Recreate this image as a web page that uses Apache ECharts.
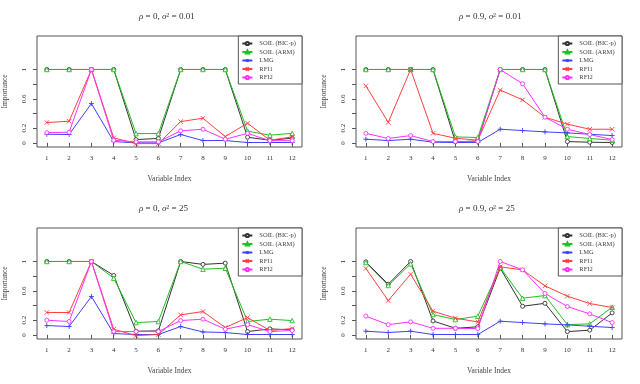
<!DOCTYPE html>
<html>
<head>
<meta charset="utf-8">
<script src="https://cdn.jsdelivr.net/npm/echarts@6/dist/echarts.min.js"></script>
<style>
html,body{margin:0;padding:0;background:#fff;}
#main{width:640px;height:384px;}
</style>
</head>
<body>
<div id="main"></div>
<script>
// variable index 1..12
var varIndex = [1,2,3,4,5,6,7,8,9,10,11,12];
var methodNames = ['SOIL (BIC-p)','SOIL (ARM)','LMG','RFI1','RFI2'];

// rho = 0, sigma^2 = 0.01
var p1_bic  = [1,1,1,1,0.045,0.06,1,1,1,0.077,0.036,0.064];
var p1_arm  = [1,1,1,1,0.127,0.127,1,1,1,0.16,0.105,0.13];
var p1_lmg  = [0.118,0.114,0.536,0.018,0,0,0.114,0.032,0.032,0.005,0.005,0.005];
var p1_rfi1 = [0.277,0.295,1,0.068,-0.01,-0.01,0.29,0.336,0.086,0.268,0.036,0.082];
var p1_rfi2 = [0.14,0.145,1,0.036,0.014,0.014,0.164,0.186,0.05,0.13,0.03,0.03];

// rho = 0.9, sigma^2 = 0.01
var p2_bic  = [1,1,1,1,0.014,0.027,1,1,1,0.018,0.009,0.005];
var p2_arm  = [1,1,1,1,0.082,0.073,1,1,1,0.086,0.06,0.036];
var p2_lmg  = [0.05,0.032,0.05,0.009,0.005,0.005,0.186,0.168,0.15,0.136,0.118,0.1];
var p2_rfi1 = [0.777,0.28,1,0.13,0.064,0.036,0.72,0.586,0.35,0.255,0.186,0.186];
var p2_rfi2 = [0.13,0.06,0.1,0.018,0.018,0.018,1,0.805,0.35,0.186,0.114,0.045];

// rho = 0, sigma^2 = 25
var p3_bic  = [1,1,1,0.81,0.05,0.055,1,0.96,0.977,0.045,0.082,0.068];
var p3_arm  = [1,1,1,0.773,0.168,0.182,1,0.895,0.909,0.182,0.214,0.195];
var p3_lmg  = [0.127,0.114,0.523,0.018,0.005,0.005,0.114,0.04,0.032,0.005,0.005,0.005];
var p3_rfi1 = [0.305,0.305,1,0.077,-0.01,0.005,0.273,0.318,0.1,0.236,0.06,0.086];
var p3_rfi2 = [0.2,0.182,1,0.045,0.045,0.045,0.195,0.214,0.077,0.14,0.045,0.06];

// rho = 0.9, sigma^2 = 25
var p4_bic  = [0.995,0.69,1,0.19,0.09,0.11,0.909,0.39,0.43,0.045,0.064,0.3];
var p4_arm  = [0.986,0.673,0.968,0.277,0.209,0.255,0.918,0.5,0.536,0.14,0.15,0.377];
var p4_lmg  = [0.05,0.032,0.05,0.005,0.005,0.005,0.186,0.168,0.15,0.136,0.118,0.1];
var p4_rfi1 = [0.905,0.468,0.827,0.323,0.227,0.177,0.927,0.886,0.668,0.527,0.427,0.373];
var p4_rfi2 = [0.255,0.14,0.177,0.09,0.09,0.086,1,0.886,0.564,0.386,0.286,0.168];

var yTicks = [0,0.2,0.4,0.6,0.8,1];
var yLabels = [0,0.2,0.6,1];

var panels = [
    {rho:'0',   s2:'0.01', data:[p1_bic,p1_arm,p1_lmg,p1_rfi1,p1_rfi2]},
    {rho:'0.9', s2:'0.01', data:[p2_bic,p2_arm,p2_lmg,p2_rfi1,p2_rfi2]},
    {rho:'0',   s2:'25',   data:[p3_bic,p3_arm,p3_lmg,p3_rfi1,p3_rfi2]},
    {rho:'0.9', s2:'25',   data:[p4_bic,p4_arm,p4_lmg,p4_rfi1,p4_rfi2]}
];

// styles per method (hollow symbols: white fill + coloured border)
var colors = ['#333333','#22c022','#4040ff','#ff4040','#ff30ff'];
var symbols = ['circle','triangle',
    'path://M5,0L5,10M0,5L10,5',
    'path://M0,0L10,10M0,10L10,0',
    'circle'];
var symSizes = [4, 4.5, 5, 4.5, 4];

var font = 'Liberation Serif';
var boxes = [
    {left:36, top:36},
    {left:356, top:36},
    {left:36, top:228},
    {left:356, top:228}
];
var boxW = 266, boxH = 111;

var grids=[], xAxes=[], yAxes=[], series=[], graphics=[], legends=[];

panels.forEach(function(p, k){
    var b = boxes[k];
    grids.push({left:b.left, top:b.top, width:boxW, height:boxH, show:true,
        borderColor:'#555', borderWidth:1, backgroundColor:'transparent'});
    xAxes.push({
        type:'value', gridIndex:k, min:0.56, max:12.44,
        name:'Variable Index', nameLocation:'middle', nameGap:28,
        nameTextStyle:{fontFamily:font, fontSize:7.5, color:'#444'},
        axisLine:{show:false},
        axisTick:{show:true, length:4, customValues:varIndex, lineStyle:{color:'#555'}},
        axisLabel:{fontFamily:font, fontSize:7, color:'#333', margin:8, customValues:varIndex},
        splitLine:{show:false}
    });
    yAxes.push({
        type:'value', gridIndex:k, min:-0.056, max:1.456,
        name:'Importance', nameLocation:'middle', nameGap:28,
        nameTextStyle:{fontFamily:font, fontSize:7.5, color:'#444'},
        axisLine:{show:false},
        axisTick:{show:true, length:4, customValues:yTicks, lineStyle:{color:'#555'}},
        axisLabel:{fontFamily:font, fontSize:7, color:'#333', margin:9, rotate:90,
            customValues:yLabels},
        splitLine:{show:false}
    });
    // panel title
    graphics.push({
        type:'text', left:b.left + boxW/2 - 30, top:b.top - 24,
        style:{
            text:'{i|ρ} = ' + p.rho + ', {i|σ}{sup|2} = ' + p.s2,
            fontFamily:font, fontSize:9, fill:'#333',
            rich:{
                i:{fontFamily:font, fontSize:9, fontStyle:'italic', fill:'#333'},
                sup:{fontFamily:font, fontSize:6, fill:'#333', verticalAlign:'top', padding:[0,0,3,0]}
            }
        }
    });
    legends.push({
        data:methodNames, orient:'vertical', align:'left',
        right:640 - (b.left + boxW), top:b.top,
        itemWidth:10, itemHeight:4, itemGap:1.5,
        padding:[4,6,3,3],
        borderColor:'#555', borderWidth:1, backgroundColor:'#fff',
        textStyle:{fontFamily:font, fontSize:6.5, color:'#444', padding:[0,0,0,2]}
    });
    p.data.forEach(function(vals, m){
        series.push({
            name:methodNames[m], type:'line', xAxisIndex:k, yAxisIndex:k,
            data:varIndex.map(function(x,i){ return [x, vals[i]]; }),
            symbol:symbols[m], symbolSize:symSizes[m], showAllSymbol:true,
            lineStyle:{color:colors[m], width:1},
            itemStyle:{color:'#fff', borderColor:colors[m], borderWidth:0.9},
            emphasis:{disabled:true},
            z:2+m, animation:false
        });
    });
});

var myChart = echarts.init(document.getElementById('main'), null, {renderer:'canvas'});
myChart.setOption({
    animation:false,
    backgroundColor:'#fff',
    legend:legends,
    grid:grids,
    xAxis:xAxes,
    yAxis:yAxes,
    graphic:graphics,
    series:series
});
</script>
</body>
</html>
